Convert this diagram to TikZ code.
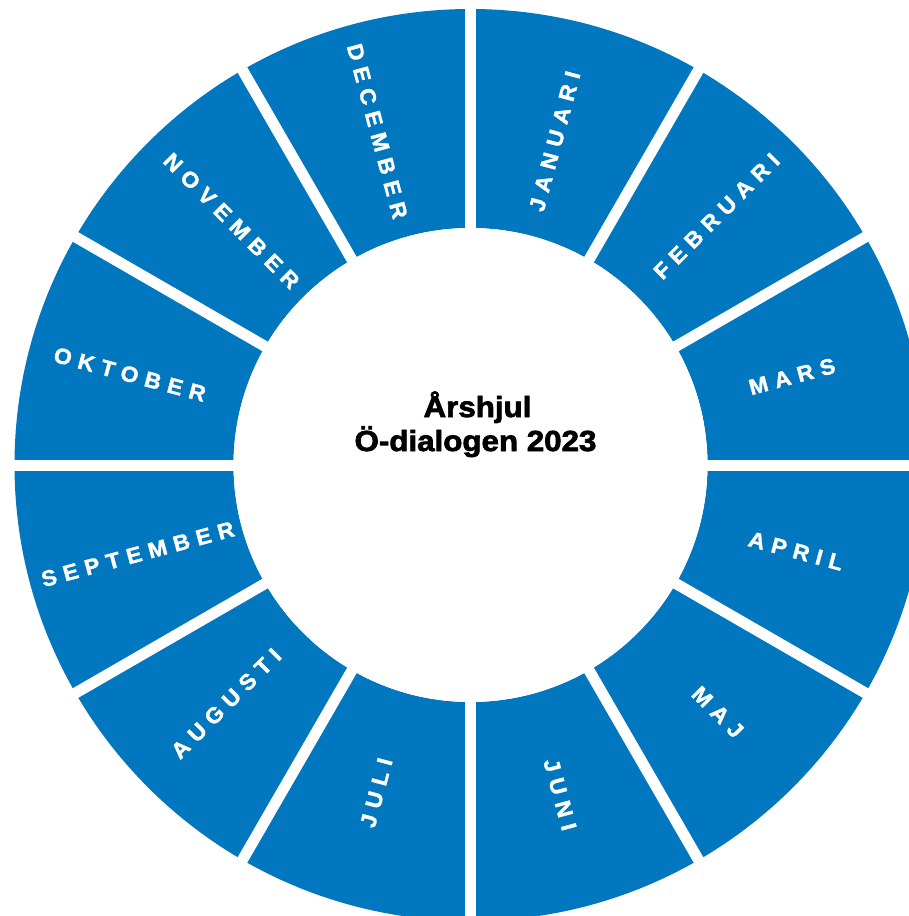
\documentclass[tikz,border=0pt]{standalone}
\usepackage{fontspec}
\setmainfont{Liberation Sans}
\newfontfamily\monthfont{Liberation Sans}[LetterSpace=32,FakeBold=1.6,FakeStretch=1.04]
\newfontfamily\titlefont{Liberation Sans}[FakeBold=2.4,FakeStretch=1.08]
\definecolor{wheelblue}{RGB}{0,119,190}
\begin{document}
\begin{tikzpicture}[x=1pt,y=1pt,
  month/.style={text=white, font=\monthfont\bfseries\fontsize{22}{22}\selectfont, inner sep=0pt, anchor=center},
  wheeltitle/.style={text=black, font=\titlefont\bfseries\fontsize{29}{29}\selectfont, inner sep=0pt, anchor=base},
  gap/.style={white, line width=11pt}]
\useasboundingbox (-470.5,-451) rectangle (438.5,465);
\clip (-470.5,-451) rectangle (438.5,465);
% ring
\fill[wheelblue, even odd rule] (0,0) circle[radius=456] (0,0) circle[radius=237];
% white separators
\foreach \a in {0,30,...,150} {
  \draw[gap] (\a:470) -- (\a+180:470);
}
\fill[white] (0,0) circle[radius=237];
% title
\node[wheeltitle] (t1) at (7,48) {Årshjul};
\node[wheeltitle] (t2) at (5,14) {Ö-dialogen 2023};
% months
\newcommand{\mlbl}[1]{\kern0.32em #1}
\node[month, rotate=75]  (jan) at (75.4:331)   {\mlbl{JANUARI}};
\node[month, rotate=45]  (feb) at (45.3:346.5) {\mlbl{FEBRUARI}};
\node[month, rotate=15]  (mar) at (15.4:330)   {\mlbl{MARS}};
\node[month, rotate=-15] (apr) at (-14.8:333)  {\mlbl{APRIL}};
\node[month, rotate=-45] (maj) at (-45:346)    {\mlbl{MAJ}};
\node[month, rotate=-75] (jun) at (-74.8:338)  {\mlbl{JUNI}};
\node[month, rotate=75]  (jul) at (-106:344.5) {\mlbl{JULI}};
\node[month, rotate=45]  (aug) at (-135.7:345) {\mlbl{AUGUSTI}};
\node[month, rotate=15]  (sep) at (-165:348)   {\mlbl{SEPTEMBER}};
\node[month, rotate=-15] (okt) at (165.1:356)  {\mlbl{OKTOBER}};
\node[month, rotate=-45] (nov) at (134.4:345)  {\mlbl{NOVEMBER}};
\node[month, rotate=-75] (dec) at (105.6:350)  {\mlbl{DECEMBER}};
\end{tikzpicture}
\end{document}
